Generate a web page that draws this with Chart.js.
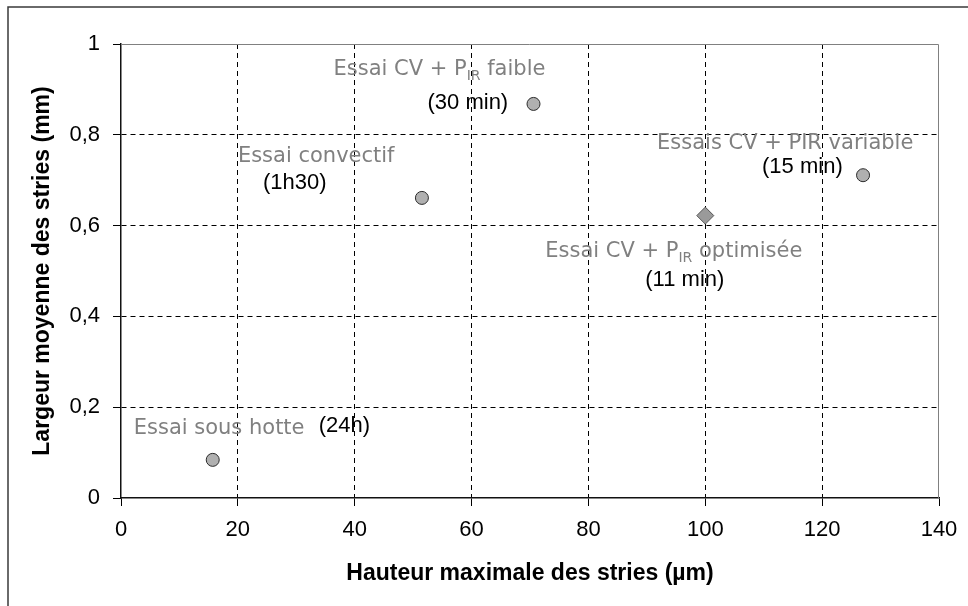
<!DOCTYPE html>
<html>
<head>
<meta charset="utf-8">
<script src="https://cdn.jsdelivr.net/npm/chart.js@4/dist/chart.umd.min.js"></script>
<style>
  html, body { margin: 0; padding: 0; background: #fff; }
  #stries { display: block; }
</style>
</head>
<body>
<canvas id="stries" width="968" height="606"></canvas>
<script>
// essais de sechage : hauteur max (µm) / largeur moyenne (mm) des stries
var hauteur = [15.7, 51.5, 70.6, 127];
var largeur = [0.084, 0.661, 0.868, 0.711];

// essai avec puissance IR optimisee (losange)
var hauteurOpt = [100];
var largeurOpt = [0.622];

var essais = ['Essai sous hotte', 'Essai convectif', 'Essai CV + P_IR faible', 'Essais CV + PIR variable', 'Essai CV + P_IR optimisée'];
var durees = ['(24h)', '(1h30)', '(30 min)', '(15 min)', '(11 min)'];

var xTicks = [0, 20, 40, 60, 80, 100, 120, 140];
var yTicks = [0, 0.2, 0.4, 0.6, 0.8, 1];

// decalage des etiquettes (px) par rapport au point : [gris dx, dy, noir dx, dy]
var offsets = [
  [-79, -26, 106, -28],
  [-184, -36, -159, -9],
  [-200, -29, -106, 5],
  [-206, -26, -101, -2],
  [-160, 41, -60, 70]
];

var sansFont = '"Liberation Sans", Arial, sans-serif';
var greyFont = '"DejaVu Sans", Verdana, sans-serif';

function pointsOf(xs, ys) {
  var out = [];
  for (var i = 0; i < xs.length; i++) out.push({x: xs[i], y: ys[i]});
  return out;
}

function fmt(v) {
  return (Math.round(v * 10) / 10).toString().replace('.', ',');
}

// lignes de grille : pas de tirets sur les axes ni sur le bord gris
function gridColor(last) {
  return function (c) {
    if (!c.tick) return '#000';
    var v = c.tick.value;
    return (v === 0 || v === last) ? 'rgba(0,0,0,0)' : '#000';
  };
}

// texte gris avec indice "_IR"
function drawCaption(ctx, text, x, y) {
  var parts = text.split('_');
  ctx.fillStyle = '#808080';
  ctx.textAlign = 'left';
  ctx.textBaseline = 'alphabetic';
  for (var i = 0; i < parts.length; i++) {
    var s = parts[i];
    if (i > 0) {
      ctx.font = '14px ' + greyFont;
      ctx.fillText('IR', x, y + 5);
      x += ctx.measureText('IR').width;
      s = s.substring(2);
    }
    ctx.font = '21px ' + greyFont;
    ctx.fillText(s, x, y);
    x += ctx.measureText(s).width;
  }
}

var decor = {
  id: 'decor',
  beforeDatasetsDraw: function (chart) {
    var ctx = chart.ctx, a = chart.chartArea;
    ctx.save();
    // cadre exterieur (haut et gauche)
    ctx.strokeStyle = '#3a3a3a';
    ctx.lineWidth = 1.5;
    ctx.beginPath();
    ctx.moveTo(8, 606);
    ctx.lineTo(8, 7);
    ctx.lineTo(968, 7);
    ctx.stroke();
    // bord gris de la zone de trace
    ctx.strokeStyle = '#808080';
    ctx.lineWidth = 1;
    ctx.beginPath();
    ctx.moveTo(a.left, a.top + 0.5);
    ctx.lineTo(a.right - 0.5, a.top + 0.5);
    ctx.lineTo(a.right - 0.5, a.bottom);
    ctx.stroke();
    ctx.restore();
  },
  afterDraw: function (chart) {
    var ctx = chart.ctx;
    var sx = chart.scales.x, sy = chart.scales.y;
    var xs = hauteur.concat(hauteurOpt), ys = largeur.concat(largeurOpt);
    ctx.save();
    for (var i = 0; i < essais.length; i++) {
      var px = sx.getPixelForValue(xs[i]);
      var py = sy.getPixelForValue(ys[i]);
      var o = offsets[i];
      drawCaption(ctx, essais[i], px + o[0], py + o[1]);
      ctx.font = '22px ' + sansFont;
      ctx.fillStyle = '#000';
      ctx.textAlign = 'left';
      ctx.textBaseline = 'alphabetic';
      ctx.fillText(durees[i], px + o[2], py + o[3]);
    }
    ctx.restore();
  }
};

new Chart(document.getElementById('stries'), {
  type: 'scatter',
  data: {
    datasets: [{
      data: pointsOf(hauteur, largeur),
      pointStyle: 'circle',
      pointRadius: 6.5,
      pointBackgroundColor: '#b0b0b0',
      pointBorderColor: '#2b2b2b',
      pointBorderWidth: 1
    }, {
      data: pointsOf(hauteurOpt, largeurOpt),
      pointStyle: 'rectRot',
      pointRadius: 8.5,
      pointBackgroundColor: '#9a9a9a',
      pointBorderColor: '#555',
      pointBorderWidth: 1
    }]
  },
  options: {
    responsive: false,
    animation: false,
    events: [],
    layout: { padding: { top: 44, right: 29, left: 0, bottom: 0 } },
    plugins: { legend: { display: false }, tooltip: { enabled: false } },
    scales: {
      x: {
        type: 'linear', min: 0, max: 140,
        afterBuildTicks: function (s) { s.ticks = xTicks.map(function (v) { return {value: v}; }); },
        ticks: { color: '#000', font: { family: sansFont, size: 22 }, padding: 11, maxRotation: 0 },
        grid: { color: gridColor(140), tickColor: '#000', tickLength: 8, lineWidth: 1 },
        border: { color: '#111', width: 1.5, dash: [5, 4] },
        title: {
          display: true, text: 'Hauteur maximale des stries (µm)', color: '#000',
          font: { family: sansFont, size: 23, weight: 'bold' }, padding: { top: 0, bottom: 19 }
        },
        afterFit: function (s) { s.height = 108; s.paddingLeft = 0; s.paddingRight = 0; }
      },
      y: {
        type: 'linear', min: 0, max: 1,
        afterBuildTicks: function (s) { s.ticks = yTicks.map(function (v) { return {value: v}; }); },
        ticks: { color: '#000', font: { family: sansFont, size: 22 }, padding: 13, callback: fmt },
        grid: { color: gridColor(1), tickColor: '#000', tickLength: 8, lineWidth: 1 },
        border: { color: '#111', width: 1.5, dash: [5, 4] },
        title: {
          display: true, text: 'Largeur moyenne des stries (mm)', color: '#000',
          font: { family: sansFont, size: 23, weight: 'bold' }, padding: { top: 29, bottom: 0 }
        },
        afterFit: function (s) { s.width = 121; s.paddingTop = 0; s.paddingBottom = 0; }
      }
    }
  },
  plugins: [decor]
});
</script>
</body>
</html>
